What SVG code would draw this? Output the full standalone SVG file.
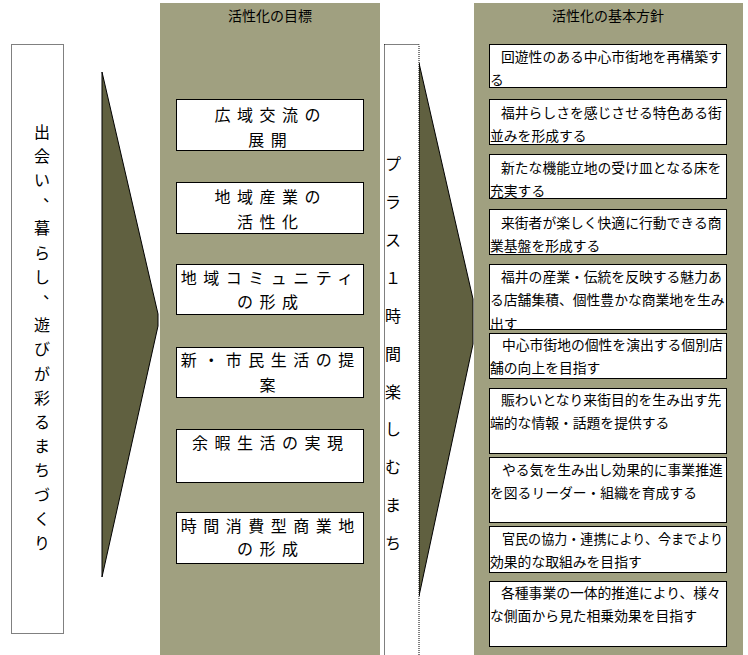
<svg xmlns="http://www.w3.org/2000/svg" width="748" height="655" viewBox="0 0 748 655">
<style>
  text { font-family: "Noto Sans CJK JP", "Noto Sans CJK SC", sans-serif; fill: #000; }
  .col { fill: #a0a080; }
  .box { fill: #fff; stroke: #000; stroke-width: 1; }
  .dot { fill: #fff; stroke: #000; stroke-width: 1; stroke-dasharray: 1 1; }
  .arrow { fill: #606040; stroke: #000; stroke-width: 1; stroke-linejoin: miter; }
  .title { font-size: 14px; text-anchor: middle; }
  .goal { font-size: 16px; letter-spacing: 6.5px; }
  .vert { font-size: 16px; }
  .pol { font-size: 13.8px; }
</style>
<defs>
  <clipPath id="clip5"><rect x="489" y="264" width="238" height="65"/></clipPath>
</defs>
<rect width="748" height="655" fill="#fff"/>

<!-- column backgrounds -->
<g id="col-goals">
  <rect class="col" x="160" y="3" width="220" height="652"/>
  <text class="title" x="270" y="20.5">活性化の目標</text>
</g>
<g id="col-policies">
  <rect class="col" x="474" y="3" width="269" height="652"/>
  <text class="title" x="608" y="20.5">活性化の基本方針</text>
</g>

<!-- connectors -->
<g id="connectors">
  <polygon class="arrow" points="102,72 158,314 158,326 102,577"/>
  <polygon class="arrow" points="419,63 473,299 473,344 419,596"/>
</g>

<!-- left vision node -->
<g id="vision">
  <rect class="dot" x="11.5" y="44.5" width="52" height="589"/>
  <text class="vert" x="34 34 34 43 34 34 34 43 34 34 34 34 34 34 34 34 34 34" y="137.6 161.8 186 201 234.4 258.6 282.8 298 331.2 355.4 379.6 403.8 428 452.2 476.4 500.6 524.8 549">出会い、暮らし、遊びが彩るまちづくり</text>
</g>

<!-- goals -->
<g id="goal-1">
  <rect class="box" x="176.5" y="99.5" width="187" height="51"/>
  <text class="goal" x="214.5" y="120.6">広域交流の</text>
  <text class="goal" x="248.3" y="145.6">展開</text>
</g>
<g id="goal-2">
  <rect class="box" x="176.5" y="182.5" width="187" height="51"/>
  <text class="goal" x="214.5" y="202.5">地域産業の</text>
  <text class="goal" x="237" y="227.5">活性化</text>
</g>
<g id="goal-3">
  <rect class="box" x="176.5" y="264.5" width="187" height="50"/>
  <text class="goal" x="180.8" y="284">地域コミュニティ</text>
  <text class="goal" x="237" y="308">の形成</text>
</g>
<g id="goal-4">
  <rect class="box" x="176.5" y="347.5" width="187" height="50"/>
  <text class="goal" x="180.8" y="366">新・市民生活の提</text>
  <text class="goal" x="259.5" y="391">案</text>
</g>
<g id="goal-5">
  <rect class="box" x="176.5" y="429.5" width="187" height="53"/>
  <text class="goal" x="192" y="448.6">余暇生活の実現</text>
</g>
<g id="goal-6">
  <rect class="box" x="176.5" y="512.5" width="187" height="51"/>
  <text class="goal" x="180.8" y="532">時間消費型商業地</text>
  <text class="goal" x="237" y="555">の形成</text>
</g>

<!-- middle vertical node -->
<g id="plus-one-hour">
  <rect class="dot" x="384.5" y="44.5" width="34.5" height="620"/>
  <text class="vert" x="385 385 385 385 385 385 385 385 385 385 385" y="170.1 208 245.9 283.8 321.7 359.6 397.5 435.4 473.3 511.2 549.1">プラス１時間楽しむまち</text>
</g>

<!-- policies -->
<g id="policy-1">
  <rect class="box" x="489.5" y="44.5" width="237" height="43"/>
  <text class="pol" x="501" y="62">回遊性のある中心市街地を再構築す</text>
  <text class="pol" x="490" y="85.3">る</text>
</g>
<g id="policy-2">
  <rect class="box" x="489.5" y="99.5" width="237" height="45"/>
  <text class="pol" x="501" y="118">福井らしさを感じさせる特色ある街</text>
  <text class="pol" x="490" y="141.3">並みを形成する</text>
</g>
<g id="policy-3">
  <rect class="box" x="489.5" y="154.5" width="237" height="44"/>
  <text class="pol" x="501" y="173">新たな機能立地の受け皿となる床を</text>
  <text class="pol" x="490" y="196.3">充実する</text>
</g>
<g id="policy-4">
  <rect class="box" x="489.5" y="209.5" width="237" height="45"/>
  <text class="pol" x="501" y="228">来街者が楽しく快適に行動できる商</text>
  <text class="pol" x="490" y="251.3">業基盤を形成する</text>
</g>
<g id="policy-5">
  <rect class="box" x="489.5" y="264.5" width="237" height="65"/>
  <g clip-path="url(#clip5)">
    <text class="pol" x="501" y="282">福井の産業・伝統を反映する魅力あ</text>
    <text class="pol" x="490" y="305.3">る店舗集積、個性豊かな商業地を生み</text>
    <text class="pol" x="490" y="328.6">出す</text>
  </g>
</g>
<g id="policy-6">
  <rect class="box" x="489.5" y="333.5" width="237" height="45"/>
  <text class="pol" x="502" y="350">中心市街地の個性を演出する個別店</text>
  <text class="pol" x="490" y="373.3">舗の向上を目指す</text>
</g>
<g id="policy-7">
  <rect class="box" x="489.5" y="388.5" width="237" height="65"/>
  <text class="pol" x="501" y="405">賑わいとなり来街目的を生み出す先</text>
  <text class="pol" x="490" y="428.3">端的な情報・話題を提供する</text>
</g>
<g id="policy-8">
  <rect class="box" x="489.5" y="457.5" width="237" height="65"/>
  <text class="pol" x="502" y="475">やる気を生み出し効果的に事業推進</text>
  <text class="pol" x="490" y="498.3">を図るリーダー・組織を育成する</text>
</g>
<g id="policy-9">
  <rect class="box" x="489.5" y="526.5" width="237" height="46"/>
  <text class="pol" x="502" y="544" textLength="221" lengthAdjust="spacingAndGlyphs">官民の協力・連携により、今までより</text>
  <text class="pol" x="490" y="567.3">効果的な取組みを目指す</text>
</g>
<g id="policy-10">
  <rect class="box" x="489.5" y="581.5" width="237" height="65"/>
  <text class="pol" x="501" y="598">各種事業の一体的推進により、様々</text>
  <text class="pol" x="490" y="621.3">な側面から見た相乗効果を目指す</text>
</g>
</svg>
